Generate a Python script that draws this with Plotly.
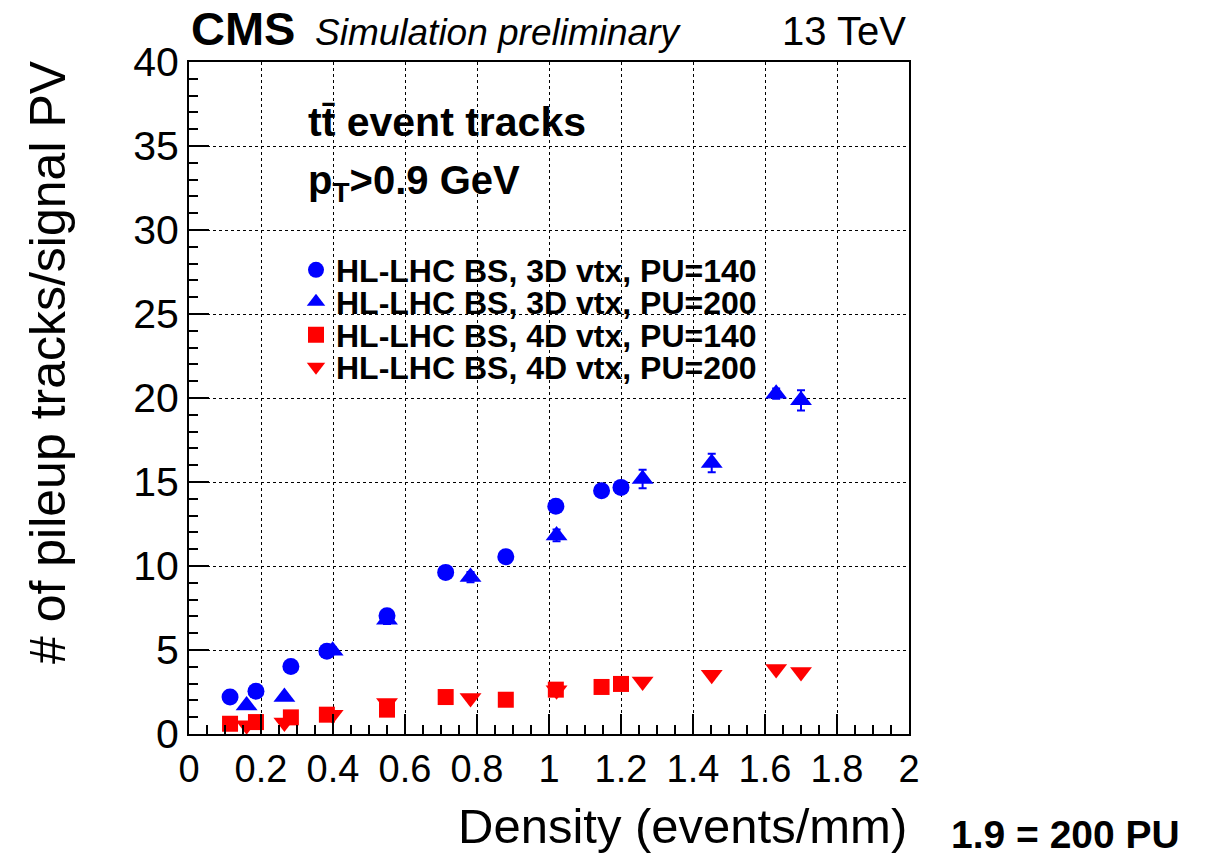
import plotly.graph_objects as go

# Track density (events/mm) for each sample
density_pu140 = [0.114, 0.186, 0.283, 0.383, 0.55, 0.713, 0.88, 1.019, 1.146, 1.2]
density_pu200 = [0.16, 0.265, 0.399, 0.55, 0.782, 1.021, 1.26, 1.452, 1.631, 1.7]

# Pileup tracks per signal PV
vtx3d_pu140 = [2.2, 2.54, 4.02, 4.92, 7.04, 9.62, 10.55, 13.55, 14.48, 14.68]
vtx3d_pu200 = [1.7, 2.2, 4.96, 6.8, 9.34, 11.82, 15.18, 16.13, 20.26, 19.86]
vtx4d_pu140 = [0.61, 0.71, 0.99, 1.15, 1.45, 2.2, 2.04, 2.64, 2.8, 2.98]
vtx4d_pu200 = [0.52, 0.69, 1.15, 1.85, 2.14, 2.6, 3.13, 3.53, 3.87, 3.69]

# Statistical uncertainties
err_3d_pu140 = [0.1, 0.1, 0.15, 0.15, 0.2, 0.2, 0.25, 0.3, 0.3, 0.3]
err_3d_pu200 = [0.1, 0.15, 0.2, 0.25, 0.3, 0.35, 0.55, 0.55, 0.3, 0.6]
err_4d_pu140 = [0.05, 0.05, 0.05, 0.05, 0.1, 0.1, 0.1, 0.1, 0.1, 0.1]
err_4d_pu200 = [0.05, 0.05, 0.05, 0.1, 0.1, 0.1, 0.1, 0.1, 0.1, 0.1]

labels = [
    "HL-LHC BS, 3D vtx, PU=140",
    "HL-LHC BS, 3D vtx, PU=200",
    "HL-LHC BS, 4D vtx, PU=140",
    "HL-LHC BS, 4D vtx, PU=200",
]

BLUE = "#0000ff"
RED = "#ff0000"
FONT = "Liberation Sans, Arial, Helvetica, sans-serif"

# plot frame in pixels
W, H = 1212, 856
X0, X1, Y0, Y1 = 189, 909, 62, 734


def px(x):
    return (x - X0) / (X1 - X0)


def py(y):
    return (Y1 - y) / (Y1 - Y0)


series = [
    (density_pu140, vtx3d_pu140, err_3d_pu140, "circle", BLUE, 17),
    (density_pu200, vtx3d_pu200, err_3d_pu200, "triangle-up", BLUE, 19),
    (density_pu140, vtx4d_pu140, err_4d_pu140, "square", RED, 16),
    (density_pu200, vtx4d_pu200, err_4d_pu200, "triangle-down", RED, 19),
]
legend_ids = ["legend", "legend2", "legend3", "legend4"]
legend_rows = [270, 302, 335, 367]

fig = go.Figure()
for (xs, ys, es, sym, col, size), name, lid in zip(series, labels, legend_ids):
    fig.add_trace(go.Scatter(
        x=xs, y=ys, mode="markers", name=name, legend=lid,
        marker=dict(symbol=sym, color=col, size=size, line=dict(width=0)),
        error_y=dict(type="data", array=es, color=col, thickness=2, width=4),
    ))

axis_common = dict(
    showline=True, linecolor="black", linewidth=2, mirror=True,
    ticks="inside", tickcolor="black", tickwidth=1.5, ticklen=20,
    showgrid=True, gridcolor="black", gridwidth=1, griddash="dot",
    zeroline=False,
)

fig.update_xaxes(
    range=[0, 2], dtick=0.2, tick0=0,
    minor=dict(dtick=0.05, ticks="inside", ticklen=9, tickcolor="black", tickwidth=1.5, showgrid=False),
    tickformat="~g",
    tickfont=dict(family=FONT, size=38, color="black"),
    **axis_common,
)
fig.update_yaxes(
    range=[0, 40], dtick=5, tick0=0,
    minor=dict(dtick=1, ticks="inside", ticklen=9, tickcolor="black", tickwidth=1.5, showgrid=False),
    tickfont=dict(family=FONT, size=41, color="black"),
    **axis_common,
)

annotations = [
    dict(text="<b>CMS</b>", x=189, y=57, font=dict(size=47)),
    dict(text="<i>Simulation preliminary</i>", x=313, y=55, font=dict(size=37)),
    dict(text="13 TeV", x=908, y=55, font=dict(size=40), xanchor="right"),
    dict(text="<b>tt\u0304 event tracks</b>", x=306, y=147, font=dict(size=41)),
    dict(text="<b>p<sub>T</sub>>0.9 GeV</b>", x=306, y=210, font=dict(size=40)),
    dict(text="Density (events/mm)", x=909, y=826, font=dict(size=49),
         xanchor="right", yanchor="middle"),
    dict(text="<b>1.9 = 200 PU</b>", x=949, y=834, font=dict(size=39), yanchor="middle"),
]

ann_objs = []
for a in annotations:
    f = dict(family=FONT, color="black")
    f.update(a.pop("font"))
    ann_objs.append(dict(
        xref="paper", yref="paper",
        x=px(a.pop("x")), y=py(a.pop("y")),
        xanchor=a.pop("xanchor", "left"), yanchor=a.pop("yanchor", "bottom"),
        showarrow=False, font=f, **a,
    ))

ann_objs.append(dict(
    text="# of pileup tracks/signal PV", xref="paper", yref="paper",
    x=px(48), y=py(362), xanchor="center", yanchor="middle",
    textangle=-90, showarrow=False, font=dict(family=FONT, size=50, color="black"),
))

legend_style = dict(
    xanchor="left", yanchor="middle",
    bgcolor="rgba(0,0,0,0)", borderwidth=0,
    font=dict(family=FONT, size=32, color="black", weight="bold"),
    itemwidth=30,
)
legend_layout = {
    lid: dict(x=px(296), y=py(row), **legend_style)
    for lid, row in zip(legend_ids, legend_rows)
}

fig.update_layout(
    width=W, height=H,
    margin=dict(l=X0, r=W - X1, t=Y0, b=H - Y1),
    paper_bgcolor="white", plot_bgcolor="white",
    showlegend=True,
    annotations=ann_objs,
    **legend_layout,
)

fig.write_html("out.html")
